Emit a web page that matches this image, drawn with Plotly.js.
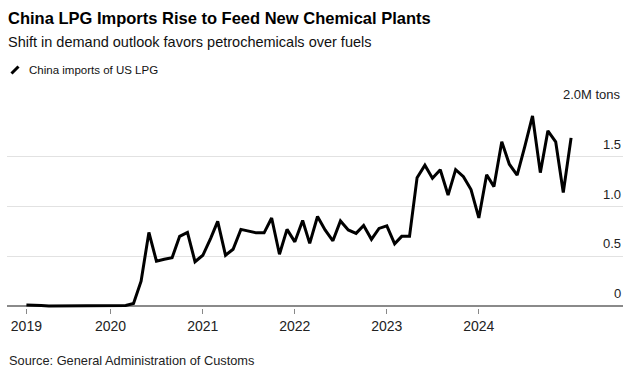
<!DOCTYPE html>
<html>
<head>
<meta charset="utf-8">
<script src="https://cdn.plot.ly/plotly-3.0.1.min.js"></script>
<style>
  html, body { margin: 0; padding: 0; background: #fff; }
  #chart { width: 638px; height: 382px; }
</style>
</head>
<body>
<div id="chart"></div>
<script>
// ---- Data ----
const months = [
  "2019-02-01","2019-03-01","2019-04-01","2019-05-01","2019-06-01","2019-07-01","2019-08-01","2019-09-01","2019-10-01","2019-11-01","2019-12-01",
  "2020-01-01","2020-02-01","2020-03-01","2020-04-01","2020-05-01","2020-06-01","2020-07-01","2020-08-01","2020-09-01","2020-10-01","2020-11-01","2020-12-01",
  "2021-01-01","2021-02-01","2021-03-01","2021-04-01","2021-05-01","2021-06-01","2021-07-01","2021-08-01","2021-09-01","2021-10-01","2021-11-01","2021-12-01",
  "2022-01-01","2022-02-01","2022-03-01","2022-04-01","2022-05-01","2022-06-01","2022-07-01","2022-08-01","2022-09-01","2022-10-01","2022-11-01","2022-12-01",
  "2023-01-01","2023-02-01","2023-03-01","2023-04-01","2023-05-01","2023-06-01","2023-07-01","2023-08-01","2023-09-01","2023-10-01","2023-11-01","2023-12-01",
  "2024-01-01","2024-02-01","2024-03-01","2024-04-01","2024-05-01","2024-06-01","2024-07-01","2024-08-01","2024-09-01","2024-10-01","2024-11-01","2024-12-01",
  "2025-01-01"
];
// China imports of US LPG, million tons
const usLpgImports = [
  0.01, 0.01, 0.005, 0, 0, 0, 0, 0, 0, 0, 0,
  0, 0, 0.005, 0.025, 0.25, 0.74, 0.45, 0.47, 0.485, 0.70, 0.74, 0.445,
  0.51, 0.68, 0.85, 0.51, 0.57, 0.77, 0.75, 0.735, 0.735, 0.885, 0.52, 0.77,
  0.645, 0.86, 0.63, 0.90, 0.765, 0.655, 0.855, 0.765, 0.73, 0.81, 0.67, 0.78,
  0.805, 0.625, 0.70, 0.70, 1.29, 1.415, 1.285, 1.37, 1.115, 1.37, 1.30, 1.17,
  0.885, 1.32, 1.20, 1.65, 1.425, 1.315, 1.60, 1.91, 1.34, 1.76, 1.65, 1.14,
  1.69
];
const xTickVals = ["2019-02-01","2020-01-01","2021-01-01","2022-01-01","2023-01-01","2024-01-01"];
const xTickText = ["2019","2020","2021","2022","2023","2024"];
const yTickVals = [0, 0.5, 1.0, 1.5, 2.0];
const yTickText = ["0", "0.5", "1.0", "1.5", "2.0M tons"];

const titleText = "China LPG Imports Rise to Feed New Chemical Plants";
const subtitleText = "Shift in demand outlook favors petrochemicals over fuels";
const legendText = "China imports of US LPG";
const sourceText = "Source: General Administration of Customs";

// ---- Layout geometry ----
const W = 638, H = 382;
const M = { l: 7, r: 15, t: 107, b: 74 };
const pw = W - M.l - M.r, ph = H - M.t - M.b;
const px = x => (x - M.l) / pw;           // pixel -> paper x
const py = y => (H - M.b - y) / ph;       // pixel -> paper y

const FONT = "Liberation Sans, Arial, Helvetica, sans-serif";

const annotations = [
  { text: "<b>" + titleText + "</b>", x: px(6), y: py(17.5), xanchor: "left", yanchor: "middle",
    font: { family: FONT, size: 16.5, color: "#000" } },
  { text: subtitleText, x: px(6), y: py(41.5), xanchor: "left", yanchor: "middle",
    font: { family: FONT, size: 14.5, color: "#111" } },
  { text: legendText, x: px(26.5), y: py(69.5), xanchor: "left", yanchor: "middle",
    font: { family: FONT, size: 11.5, color: "#111" } },
  { text: sourceText, x: px(6.5), y: py(360), xanchor: "left", yanchor: "middle",
    font: { family: FONT, size: 12.8, color: "#222" } }
];
yTickVals.forEach((v, i) => {
  annotations.push({
    text: yTickText[i], xref: "paper", yref: "y", x: 1, y: v, yshift: 12.5,
    xanchor: "right", yanchor: "middle",
    font: { family: FONT, size: 13, color: "#222" }
  });
});
annotations.forEach(a => { a.showarrow = false; if (!a.xref) a.xref = "paper"; if (!a.yref) a.yref = "paper"; });

const shapes = [
  { type: "line", xref: "paper", yref: "paper",
    x0: px(11.5), y0: py(73.5), x1: px(18.5), y1: py(66.5),
    line: { color: "#000", width: 3 } }
];

const trace = {
  x: months, y: usLpgImports, type: "scatter", mode: "lines",
  line: { color: "#000", width: 3 }, hoverinfo: "skip"
};

const layout = {
  width: W, height: H,
  margin: M,
  paper_bgcolor: "#fff", plot_bgcolor: "#fff",
  showlegend: false,
  xaxis: {
    type: "date", range: ["2018-11-16", "2025-07-26"],
    tickmode: "array", tickvals: xTickVals, ticktext: xTickText,
    ticks: "outside", ticklen: 5, tickwidth: 1, tickcolor: "#888",
    showgrid: false, showline: false, zeroline: false,
    tickfont: { family: FONT, size: 14, color: "#222" }, fixedrange: true
  },
  yaxis: {
    range: [-0.02, 2.0],
    tickmode: "array", tickvals: [0.5, 1.0, 1.5, 2.0],
    showticklabels: false, ticks: "",
    showgrid: true, gridcolor: "#e2e2e2", gridwidth: 1,
    zeroline: true, zerolinecolor: "#8a8a8a", zerolinewidth: 1.5,
    showline: false, fixedrange: true
  },
  annotations: annotations,
  shapes: shapes
};

Plotly.newPlot("chart", [trace], layout, { staticPlot: true, displayModeBar: false });
</script>
</body>
</html>
